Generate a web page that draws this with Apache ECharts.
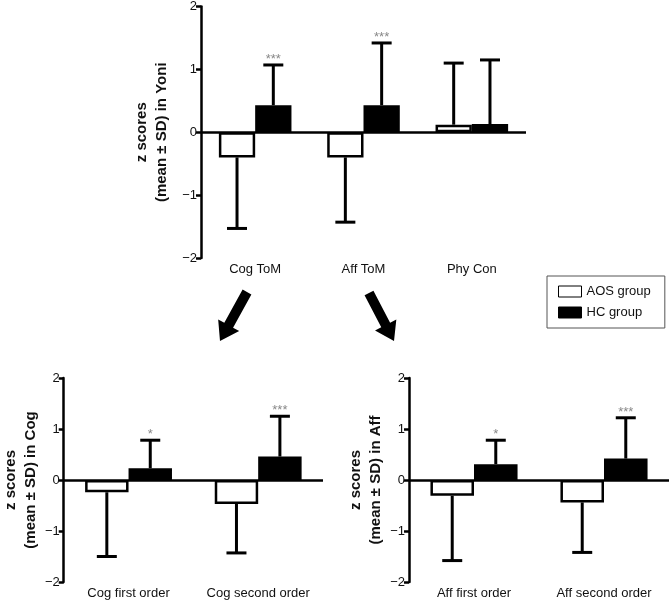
<!DOCTYPE html>
<html>
<head>
<meta charset="utf-8">
<script src="https://cdn.jsdelivr.net/npm/echarts@6/dist/echarts.min.js"></script>
<style>
html,body{margin:0;padding:0;background:#fff;}
#chart{width:670px;height:600px;}
</style>
</head>
<body>
<div id="chart"></div>
<script>
// ---- data ----
var yoniCategories = ['Cog ToM', 'Aff ToM', 'Phy Con'];
var yoniAOSMean = [-0.40, -0.40, 0.12];
var yoniAOSSD   = [1.13, 1.03, 0.98];
var yoniHCMean  = [0.43, 0.43, 0.13];
var yoniHCSD    = [0.64, 0.99, 1.02];
var yoniHCSig   = ['***', '***', ''];

var cogCategories = ['Cog first order', 'Cog second order'];
var cogAOSMean = [-0.24, -0.47];
var cogAOSSD   = [1.26, 0.96];
var cogHCMean  = [0.23, 0.46];
var cogHCSD    = [0.55, 0.79];
var cogHCSig   = ['*', '***'];

var affCategories = ['Aff first order', 'Aff second order'];
var affAOSMean = [-0.31, -0.44];
var affAOSSD   = [1.27, 0.98];
var affHCMean  = [0.31, 0.42];
var affHCSD    = [0.47, 0.80];
var affHCSig   = ['*', '***'];

var yTicks = [-2, -1, 0, 1, 2];
var groupNames = ['AOS group', 'HC group'];

// ---- build ----
var FONT = 'Liberation Sans, Arial, Helvetica, sans-serif';
var chart = echarts.init(document.getElementById('chart'));

function zip(means, sds) {
  return means.map(function (m, i) { return [i, m, sds[i]]; });
}

function errRender(sign, sigs) {
  return function (params, api) {
    var i = api.value(0), m = api.value(1), sd = api.value(2);
    var band = api.size([1, 0])[0];
    var w = band * 0.67 / 2;
    var c = api.coord([i, m]);
    var x = c[0] + sign * w / 2;
    var endV = m + (m >= 0 ? 1 : -1) * sd;
    var e = api.coord([i, endV]);
    var st = { stroke: '#000', lineWidth: 3 };
    var children = [
      { type: 'line', shape: { x1: x, y1: c[1], x2: x, y2: e[1] }, style: st },
      { type: 'line', shape: { x1: x - 10, y1: e[1], x2: x + 10, y2: e[1] }, style: st }
    ];
    var s = sigs ? sigs[params.dataIndex] : '';
    if (s) {
      children.push({
        type: 'text',
        style: { text: s, x: x, y: e[1] + 1, align: 'center', verticalAlign: 'bottom',
                 fill: '#888', font: '13px ' + FONT }
      });
    }
    return { type: 'group', children: children };
  };
}

var panels = [
  { cats: yoniCategories, aM: yoniAOSMean, aS: yoniAOSSD, hM: yoniHCMean, hS: yoniHCSD, sig: yoniHCSig,
    grid: { left: 201, top: 2, width: 325, height: 256 }, name: 'z scores\n(mean ± SD) in Yoni', gap: 29 },
  { cats: cogCategories, aM: cogAOSMean, aS: cogAOSSD, hM: cogHCMean, hS: cogHCSD, sig: cogHCSig,
    grid: { left: 63, top: 378, width: 260, height: 204.5 }, name: 'z scores\n(mean ± SD) in Cog', gap: 18 },
  { cats: affCategories, aM: affAOSMean, aS: affAOSSD, hM: affHCMean, hS: affHCSD, sig: affHCSig,
    grid: { left: 409, top: 378, width: 260, height: 204.5 }, name: 'z scores\n(mean ± SD) in Aff', gap: 23 }
];

var grids = [], xAxes = [], yAxes = [], series = [];
panels.forEach(function (p, k) {
  grids.push(p.grid);
  xAxes.push({
    type: 'category', gridIndex: k, data: p.cats,
    axisLine: { show: false, onZero: false }, axisTick: { show: false },
    axisLabel: { color: '#111', fontSize: 13, fontFamily: FONT, margin: 5, interval: 0, hideOverlap: false }
  });
  yAxes.push({
    type: 'value', gridIndex: k, min: yTicks[0], max: yTicks[yTicks.length - 1], interval: 1,
    splitLine: { show: false },
    axisLine: { show: true, lineStyle: { color: '#000', width: 2.5 } },
    axisTick: { show: true, length: 5, lineStyle: { color: '#000', width: 2.5 } },
    axisLabel: { color: '#111', fontSize: 13, fontFamily: FONT, margin: 4,
      formatter: function (v) { return v < 0 ? '\u2212' + Math.abs(v) : String(v); } },
    name: p.name, nameLocation: 'middle', nameGap: p.gap,
    nameTextStyle: { color: '#111', fontSize: 15, fontWeight: 'bold', fontFamily: FONT, lineHeight: 20 }
  });
  series.push({
    type: 'bar', name: groupNames[0], xAxisIndex: k, yAxisIndex: k, data: p.aM,
    barGap: '0%', barCategoryGap: '33%',
    itemStyle: { color: '#fff', borderColor: '#000', borderWidth: 2.5 },
    markLine: { silent: true, symbol: 'none', label: { show: false },
      lineStyle: { color: '#000', type: 'solid', width: 2.5 }, data: [{ yAxis: 0 }] },
    z: 2
  });
  series.push({
    type: 'bar', name: groupNames[1], xAxisIndex: k, yAxisIndex: k, data: p.hM,
    barGap: '0%', barCategoryGap: '33%',
    itemStyle: { color: '#000', borderColor: '#000', borderWidth: 2.5 }, z: 2
  });
  series.push({
    type: 'custom', xAxisIndex: k, yAxisIndex: k, data: zip(p.aM, p.aS),
    renderItem: errRender(-1, null), encode: { x: 0, y: 1 }, z: 3, silent: true
  });
  series.push({
    type: 'custom', xAxisIndex: k, yAxisIndex: k, data: zip(p.hM, p.hS),
    renderItem: errRender(1, p.sig), encode: { x: 0, y: 1 }, z: 3, silent: true
  });
});

function arrow(sx, sy, tx, ty) {
  var dx = tx - sx, dy = ty - sy, L = Math.sqrt(dx * dx + dy * dy);
  var ux = dx / L, uy = dy / L, nx = -uy, ny = ux;
  var sw = 5, hw = 12, hl = 18;
  var hx = tx - ux * hl, hy = ty - uy * hl;
  return {
    type: 'polygon', silent: true,
    shape: { points: [
      [sx + nx * sw, sy + ny * sw], [hx + nx * sw, hy + ny * sw], [hx + nx * hw, hy + ny * hw],
      [tx, ty], [hx - nx * hw, hy - ny * hw], [hx - nx * sw, hy - ny * sw], [sx - nx * sw, sy - ny * sw]
    ] },
    style: { fill: '#000' }
  };
}

chart.setOption({
  animation: false,
  backgroundColor: '#fff',
  grid: grids,
  xAxis: xAxes,
  yAxis: yAxes,
  series: series,
  legend: {
    orient: 'vertical', left: 547, top: 276,
    padding: [9, 14, 9, 11], itemGap: 8, itemWidth: 23, itemHeight: 11,
    borderColor: '#555', borderWidth: 1,
    icon: 'rect',
    textStyle: { color: '#111', fontSize: 13, fontFamily: FONT },
    data: [
      { name: groupNames[0], itemStyle: { color: '#fff', borderColor: '#000', borderWidth: 1 } },
      { name: groupNames[1], itemStyle: { color: '#000', borderColor: '#000', borderWidth: 1 } }
    ]
  },
  graphic: [arrow(247, 292, 220, 341), arrow(369, 293, 394, 341)]
});
</script>
</body>
</html>
